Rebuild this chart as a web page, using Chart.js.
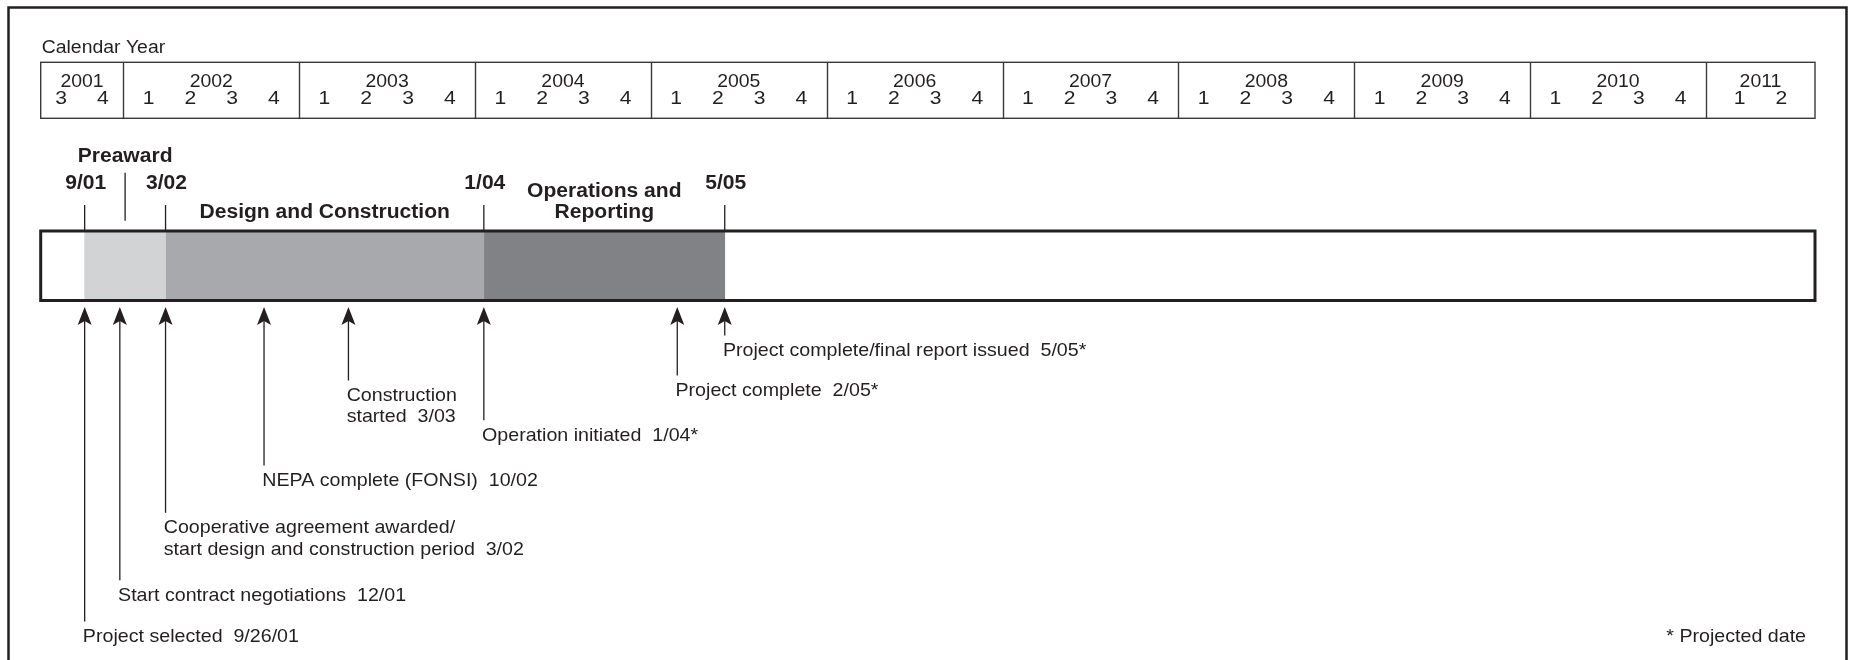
<!DOCTYPE html>
<html>
<head>
<meta charset="utf-8">
<script src="https://cdn.jsdelivr.net/npm/chart.js@4"></script>
<style>
  html, body { margin: 0; padding: 0; background: #ffffff; }
  #wrap { position: relative; width: 1850px; height: 660px; }
</style>
</head>
<body>
<div id="wrap"><canvas id="c" width="1850" height="660"></canvas></div>
<script>
// ---------------- DATA ----------------
const axisTitle = 'Calendar Year';
const years = [2001, 2002, 2003, 2004, 2005, 2006, 2007, 2008, 2009, 2010, 2011];
const quarterLabels = [[3, 4], [1, 2, 3, 4], [1, 2, 3, 4], [1, 2, 3, 4], [1, 2, 3, 4], [1, 2, 3, 4],
                       [1, 2, 3, 4], [1, 2, 3, 4], [1, 2, 3, 4], [1, 2, 3, 4], [1, 2]];
const axisStart = 2001.53;
const axisEnd = 2011.62;

const phaseNames = ['Preaward', 'Design and Construction', 'Operations and Reporting'];
const phaseStart = [2001.78, 2002.24, 2004.05];
const phaseEnd = [2002.24, 2004.05, 2005.42];
const phaseTitleLines = [['Preaward'], ['Design and Construction'], ['Operations and', 'Reporting']];

const boundaryDates = [2001.78, 2002.24, 2004.05, 2005.42];
const boundaryLabels = ['9/01', '3/02', '1/04', '5/05'];

const milestoneDates = [2001.78, 2001.98, 2002.24, 2002.80, 2003.28, 2004.05, 2005.15, 2005.42];
const milestoneLabels = [
  ['Project selected  9/26/01'],
  ['Start contract negotiations  12/01'],
  ['Cooperative agreement awarded/', 'start design and construction period  3/02'],
  ['NEPA complete (FONSI)  10/02'],
  ['Construction', 'started  3/03'],
  ['Operation initiated  1/04*'],
  ['Project complete  2/05*'],
  ['Project complete/final report issued  5/05*']
];
const footnote = '* Projected date';

// ---------------- STYLE / LAYOUT ----------------
const INK = '#231f20';
const phaseColors = ['#d1d3d4', '#a7a9ac', '#808285'];
const FONT = '"Liberation Sans", Arial, Helvetica, sans-serif';
const SX_REG = 1.11;                   // horizontal text stretch of the original artwork
const SX_BOLD = 1.08;
const milestoneBaselines = [642, 600.7, 533.3, 486, 401, 440.7, 396, 356];
const phaseTitleBaselines = [161.7, 218.3, 196.7];
const LINE_H = 21.3;

function drawText(ctx, s, x, y, font, align, sx) {
  ctx.save();
  ctx.font = font;
  ctx.fillStyle = INK;
  ctx.textBaseline = 'alphabetic';
  ctx.textAlign = 'left';
  const w = ctx.measureText(s).width * sx;
  const x0 = align === 'center' ? x - w / 2 : (align === 'right' ? x - w : x);
  ctx.translate(x0, y);
  ctx.scale(sx, 1);
  ctx.fillText(s, 0, 0);
  ctx.restore();
}

const timelinePlugin = {
  id: 'timelineDecor',
  afterDatasetsDraw(chart) {
    const ctx = chart.ctx;
    const xs = chart.scales.x;
    const area = chart.chartArea;
    const px = v => xs.getPixelForValue(v);
    const left = px(axisStart), right = px(axisEnd);

    ctx.save();
    ctx.strokeStyle = INK;
    ctx.fillStyle = INK;

    // outer frame (top, left, right)
    ctx.lineWidth = 2.5;
    ctx.beginPath();
    ctx.moveTo(8.5, 662);
    ctx.lineTo(8.5, 7.5);
    ctx.lineTo(1846.5, 7.5);
    ctx.lineTo(1846.5, 662);
    ctx.stroke();

    // calendar header
    drawText(ctx, axisTitle, left + 1, 53.3, '17.5px ' + FONT, 'left', SX_REG);
    const hTop = 62.3, hBot = 118.3;
    ctx.lineWidth = 1.4;
    ctx.strokeStyle = '#3a3a3c';
    ctx.strokeRect(left, hTop, right - left, hBot - hTop);
    years.forEach((y, i) => {
      if (y > axisStart && y < axisEnd) {
        const xx = Math.round(px(y)) + 0.5;
        ctx.beginPath();
        ctx.moveTo(xx, hTop);
        ctx.lineTo(xx, hBot);
        ctx.stroke();
      }
      const s = px(Math.max(y, axisStart));
      const e = px(Math.min(y + 1, axisEnd));
      const c = (s + e) / 2;
      drawText(ctx, String(y), c, 86.7, '17.5px ' + FONT, 'center', SX_REG);
      const qs = quarterLabels[i];
      const step = (px(y + 0.25) - px(y)) * 0.95;
      qs.forEach((q, k) => {
        drawText(ctx, String(q), c + (k - (qs.length - 1) / 2) * step, 104, '19px ' + FONT, 'center', SX_REG);
      });
    });

    // timeline bar outline
    ctx.strokeStyle = INK;
    ctx.lineWidth = 3;
    ctx.strokeRect(left, area.top, right - left, area.bottom - area.top);

    // boundary ticks + date labels
    ctx.lineWidth = 1.3;
    boundaryDates.forEach((d, i) => {
      const xx = px(d);
      ctx.beginPath();
      ctx.moveTo(xx, 205);
      ctx.lineTo(xx, area.top);
      ctx.stroke();
      drawText(ctx, boundaryLabels[i], xx + 1, 189.3, 'bold 19.5px ' + FONT, 'center', SX_BOLD);
    });

    // phase titles
    phaseTitleLines.forEach((lines, i) => {
      const c = (px(phaseStart[i]) + px(phaseEnd[i])) / 2;
      lines.forEach((ln, k) => {
        drawText(ctx, ln, c, phaseTitleBaselines[i] + k * LINE_H, 'bold 19.5px ' + FONT, 'center', SX_BOLD);
      });
    });
    // preaward divider
    const pm = (px(phaseStart[0]) + px(phaseEnd[0])) / 2;
    ctx.beginPath();
    ctx.moveTo(pm, 172.7);
    ctx.lineTo(pm, 220.7);
    ctx.stroke();

    // milestone arrows and labels
    const tipY = area.bottom + 6.5;
    milestoneDates.forEach((d, i) => {
      const xx = px(d);
      const base = milestoneBaselines[i];
      ctx.lineWidth = 1.3;
      ctx.beginPath();
      ctx.moveTo(xx, tipY + 12);
      ctx.lineTo(xx, base - 20.5);
      ctx.stroke();
      ctx.beginPath();
      ctx.moveTo(xx, tipY);
      ctx.lineTo(xx + 7, tipY + 18);
      ctx.lineTo(xx, tipY + 14);
      ctx.lineTo(xx - 7, tipY + 18);
      ctx.closePath();
      ctx.fill();
      milestoneLabels[i].forEach((ln, k) => {
        drawText(ctx, ln, xx - 1.8, base + k * LINE_H, '17.7px ' + FONT, 'left', SX_REG);
      });
    });

    drawText(ctx, footnote, right - 9, 641.7, '17.7px ' + FONT, 'right', SX_REG);
    ctx.restore();
  }
};

const chart = new Chart(document.getElementById('c'), {
  type: 'bar',
  data: {
    labels: ['Timeline'],
    datasets: phaseNames.map((n, i) => ({
      label: n,
      data: [[phaseStart[i], phaseEnd[i]]],
      backgroundColor: phaseColors[i],
      borderWidth: 0,
      borderSkipped: false,
      grouped: false,
      barPercentage: 1,
      categoryPercentage: 1
    }))
  },
  options: {
    indexAxis: 'y',
    responsive: false,
    animation: false,
    events: [],
    layout: { padding: { left: 40.7, right: 35, top: 231, bottom: 359.5 } },
    plugins: { legend: { display: false }, title: { display: false }, tooltip: { enabled: false } },
    scales: {
      x: { type: 'linear', min: axisStart, max: axisEnd, display: false },
      y: { display: false }
    }
  },
  plugins: [timelinePlugin]
});
</script>
</body>
</html>
